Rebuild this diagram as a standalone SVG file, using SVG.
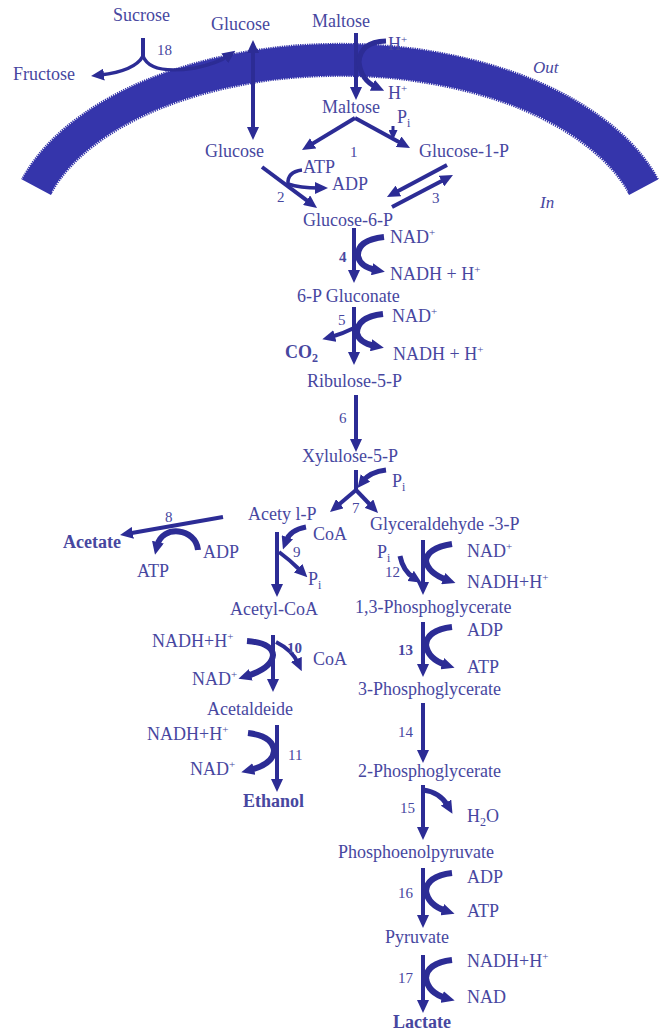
<svg xmlns="http://www.w3.org/2000/svg" width="659" height="1032" viewBox="0 0 659 1032" font-family="'Liberation Serif','Times New Roman',serif">
<style>
text{font-family:"Liberation Serif","Times New Roman",serif;font-size:18px;fill:#4747a0}
.n{font-size:15px}
.b{font-weight:bold}
.i{font-style:italic;font-size:17px}
.sup{font-size:11px}
.sub{font-size:12px}
.ln{fill:none;stroke:#2c2c95;stroke-width:4;marker-end:url(#ah)}
.cf{fill:none;stroke:#2c2c95;stroke-width:6;marker-end:url(#ah)}
.pl{fill:none;stroke:#2c2c95;stroke-width:4}
.teeth{fill:none;stroke:#ffffff;stroke-width:3;stroke-dasharray:1 1.3}
</style>
<defs>
<marker id="ah" viewBox="0 0 13 12" markerWidth="13" markerHeight="12" refX="4" refY="6" orient="auto" markerUnits="userSpaceOnUse"><path d="M0,0 L13,6 L0,12 z" fill="#2c2c95"/></marker>
<marker id="ahr" viewBox="0 0 13 12" markerWidth="13" markerHeight="12" refX="4" refY="6" orient="auto-start-reverse" markerUnits="userSpaceOnUse"><path d="M0,0 L13,6 L0,12 z" fill="#2c2c95"/></marker>
<marker id="ahs" viewBox="0 0 10 9" markerWidth="10" markerHeight="9" refX="3" refY="4.5" orient="auto" markerUnits="userSpaceOnUse"><path d="M0,0 L10,4.5 L0,9 z" fill="#2c2c95"/></marker>
</defs>
<rect width="659" height="1032" fill="#ffffff"/>
<g id="membrane">
<path d="M 36 187 A 318 180 0 0 1 644 187" fill="none" stroke="#3535ab" stroke-width="34"/>
<path class="teeth" d="M 19 182 A 336 198 0 0 1 661 182"/>
<path class="teeth" d="M 53 192 A 300 162 0 0 1 627 192"/>
</g>
<g id="connectors">
<!-- 18 -->
<path class="pl" d="M 143 38 L 143 57"/>
<path class="ln" style="stroke-width:3.5" d="M 143 56 Q 135 71 100 75"/>
<path class="ln" style="stroke-width:3.5" d="M 143 56 Q 150 75 195 68 Q 218 63 228 56"/>
<!-- glucose transport -->
<path class="ln" style="marker-start:url(#ahr)" d="M 253 49 L 253 131"/>
<!-- maltose transport -->
<path class="ln" d="M 356 33 L 356 91"/>
<path class="cf" style="stroke-width:5" d="M 386 41 Q 360 42 359 62 Q 361 80 376 87"/>
<!-- 1 -->
<path class="ln" d="M 355 118 L 309.7 145.4"/>
<path class="ln" d="M 355 118 L 402.1 143.7"/>
<path class="pl" style="stroke-width:3;marker-end:url(#ahs)" d="M 393 126 L 393 133"/>
<!-- 2 -->
<path class="ln" d="M 262 167 L 309.8 202.6"/>
<path class="ln" style="stroke-width:3.5" d="M 302 170 Q 287 172 288 184 Q 300 188 319 188"/>
<!-- 3 -->
<path class="ln" d="M 447 165 L 394.9 192.8"/>
<path class="ln" d="M 392 207 L 445 179.2"/>
<!-- 4 -->
<path class="ln" d="M 354 228 L 354 274"/>
<path class="cf" d="M 384 237 Q 357 240 358 256 Q 360 267 376 270"/>
<!-- 5 -->
<path class="ln" d="M 354 307 L 354 356"/>
<path class="cf" d="M 383 314 Q 357 317 357 333 Q 359 343 375 346"/>
<path class="ln" d="M 354 328 Q 342 334 331 337"/>
<!-- 6 -->
<path class="ln" d="M 356 395 L 356 443"/>
<!-- 7 -->
<path class="pl" d="M 356 470 L 356 491"/>
<path class="ln" d="M 356 490 L 336.9 506.2"/>
<path class="ln" d="M 356 490 L 371.8 506.5"/>
<path class="cf" style="stroke-width:5" d="M 386 470 Q 370 472 363 481"/>
<!-- 8 -->
<path class="ln" d="M 223 517 L 128.9 533.5"/>
<path class="cf" d="M 198 550 C 196 528 162 524 157 546"/>
<!-- 9 -->
<path class="ln" d="M 277 532 L 277 588"/>
<path class="cf" style="stroke-width:5" d="M 306 527 Q 290 530 286 541"/>
<path class="cf" style="stroke-width:4" d="M 279 552 Q 290 560 301 571"/>
<!-- 10 -->
<path class="ln" d="M 273 635 L 273 683"/>
<path class="cf" d="M 247 641 Q 272 643 273 655 Q 272 668 247 676"/>
<path class="cf" style="stroke-width:4" d="M 276 642 Q 292 650 298 663"/>
<!-- 11 -->
<path class="ln" d="M 277 725 L 277 783"/>
<path class="cf" d="M 248 733 Q 273 736 274 751 Q 273 764 250 770"/>
<!-- 12 -->
<path class="ln" d="M 423 540 L 423 586"/>
<path class="cf" d="M 452 544 Q 427 548 426 561 Q 428 573 447 580"/>
<path class="cf" style="stroke-width:5" d="M 400 556 Q 403 571 414 578"/>
<!-- 13 -->
<path class="ln" d="M 423 622 L 423 668"/>
<path class="cf" d="M 452 627 Q 427 630 426 645 Q 428 659 446 665"/>
<!-- 14 -->
<path class="ln" d="M 423 703 L 423 754"/>
<!-- 15 -->
<path class="ln" d="M 423 785 L 423 831"/>
<path class="cf" style="stroke-width:5" d="M 423 790 Q 440 792 448 806"/>
<!-- 16 -->
<path class="ln" d="M 423 868 L 423 919"/>
<path class="cf" d="M 452 873 Q 427 876 426 891 Q 428 905 446 911"/>
<!-- 17 -->
<path class="ln" d="M 423 955 L 423 1004"/>
<path class="cf" d="M 452 960 Q 427 963 426 978 Q 428 993 446 998"/>
</g>
<g id="n-sucrose"><text x="113" y="21">Sucrose</text></g>
<g id="n-glucose-out"><text x="211" y="30">Glucose</text></g>
<g id="n-maltose-out"><text x="312" y="27">Maltose</text></g>
<g id="n-fructose"><text x="13" y="80">Fructose</text></g>
<g id="l-18"><text class="n" x="157" y="55">18</text></g>
<g id="l-h1"><text x="388" y="50">H<tspan class="sup" dy="-7">+</tspan></text></g>
<g id="l-out"><text class="i" x="533" y="73">Out</text></g>
<g id="l-h2"><text x="388" y="99">H<tspan class="sup" dy="-7">+</tspan></text></g>
<g id="n-maltose-in"><text x="322" y="113">Maltose</text></g>
<g id="l-pi1"><text x="397" y="123">P<tspan class="sub" dy="4">i</tspan></text></g>
<g id="n-glucose-in"><text x="205" y="157">Glucose</text></g>
<g id="l-1"><text class="n" x="350" y="157">1</text></g>
<g id="n-g1p"><text x="419" y="157">Glucose-1-P</text></g>
<g id="l-atp2"><text x="303" y="173">ATP</text></g>
<g id="l-adp2"><text x="332" y="190">ADP</text></g>
<g id="l-2"><text class="n" x="277" y="202">2</text></g>
<g id="l-3"><text class="n" x="432" y="203">3</text></g>
<g id="l-in"><text class="i" x="540" y="208">In</text></g>
<g id="n-g6p"><text x="303" y="226">Glucose-6-P</text></g>
<g id="l-nad4"><text x="390" y="243">NAD<tspan class="sup" dy="-7">+</tspan></text></g>
<g id="l-4"><text class="n b" x="339" y="262">4</text></g>
<g id="l-nadh4"><text x="390" y="280">NADH + H<tspan class="sup" dy="-7">+</tspan></text></g>
<g id="n-6pg"><text x="297" y="302">6-P Gluconate</text></g>
<g id="l-nad5"><text x="392" y="322">NAD<tspan class="sup" dy="-7">+</tspan></text></g>
<g id="l-5"><text class="n" x="338" y="325">5</text></g>
<g id="l-co2"><text class="b" x="285" y="358">CO<tspan class="sub" dy="4">2</tspan></text></g>
<g id="l-nadh5"><text x="393" y="360">NADH + H<tspan class="sup" dy="-7">+</tspan></text></g>
<g id="n-ribulose"><text x="307" y="387">Ribulose-5-P</text></g>
<g id="l-6"><text class="n" x="339" y="423">6</text></g>
<g id="n-xylulose"><text x="302" y="462">Xylulose-5-P</text></g>
<g id="l-pi7"><text x="392" y="487">P<tspan class="sub" dy="4">i</tspan></text></g>
<g id="l-7"><text class="n" x="352" y="513">7</text></g>
<g id="n-acetylp"><text x="248" y="520">Acety l-P</text></g>
<g id="n-g3p"><text x="370" y="530">Glyceraldehyde -3-P</text></g>
<g id="l-8"><text class="n" x="165" y="522">8</text></g>
<g id="l-coa9"><text x="313" y="540">CoA</text></g>
<g id="n-acetate"><text class="b" x="63" y="548">Acetate</text></g>
<g id="l-adp8"><text x="203" y="558">ADP</text></g>
<g id="l-9"><text class="n" x="293" y="557">9</text></g>
<g id="l-pi12"><text x="377" y="558">P<tspan class="sub" dy="4">i</tspan></text></g>
<g id="l-nad12"><text x="467" y="557">NAD<tspan class="sup" dy="-7">+</tspan></text></g>
<g id="l-atp8"><text x="137" y="577">ATP</text></g>
<g id="l-12"><text class="n" x="385" y="577">12</text></g>
<g id="l-pi9"><text x="308" y="585">P<tspan class="sub" dy="4">i</tspan></text></g>
<g id="l-nadh12"><text x="467" y="588">NADH+H<tspan class="sup" dy="-7">+</tspan></text></g>
<g id="n-acetylcoa"><text x="230" y="615">Acetyl-CoA</text></g>
<g id="n-13pg"><text x="355" y="613">1,3-Phosphoglycerate</text></g>
<g id="l-adp13"><text x="467" y="636">ADP</text></g>
<g id="l-nadh10"><text x="152" y="647">NADH+H<tspan class="sup" dy="-7">+</tspan></text></g>
<g id="l-10"><text class="n b" x="287" y="653">10</text></g>
<g id="l-13"><text class="n b" x="398" y="655">13</text></g>
<g id="l-coa10"><text x="313" y="665">CoA</text></g>
<g id="l-atp13"><text x="467" y="673">ATP</text></g>
<g id="l-nad10"><text x="192" y="685">NAD<tspan class="sup" dy="-7">+</tspan></text></g>
<g id="n-3pg"><text x="358" y="695">3-Phosphoglycerate</text></g>
<g id="n-acetaldeide"><text x="207" y="715">Acetaldeide</text></g>
<g id="l-14"><text class="n" x="398" y="737">14</text></g>
<g id="l-nadh11"><text x="147" y="740">NADH+H<tspan class="sup" dy="-7">+</tspan></text></g>
<g id="l-11"><text class="n" x="288" y="760">11</text></g>
<g id="l-nad11"><text x="190" y="775">NAD<tspan class="sup" dy="-7">+</tspan></text></g>
<g id="n-2pg"><text x="358" y="777">2-Phosphoglycerate</text></g>
<g id="n-ethanol"><text class="b" x="243" y="807">Ethanol</text></g>
<g id="l-15"><text class="n" x="400" y="813">15</text></g>
<g id="l-h2o"><text x="467" y="822">H<tspan class="sub" dy="4">2</tspan><tspan dy="-4">O</tspan></text></g>
<g id="n-pep"><text x="338" y="858">Phosphoenolpyruvate</text></g>
<g id="l-adp16"><text x="467" y="883">ADP</text></g>
<g id="l-16"><text class="n" x="398" y="898">16</text></g>
<g id="l-atp16"><text x="467" y="917">ATP</text></g>
<g id="n-pyruvate"><text x="385" y="943">Pyruvate</text></g>
<g id="l-nadh17"><text x="467" y="967">NADH+H<tspan class="sup" dy="-7">+</tspan></text></g>
<g id="l-17"><text class="n" x="398" y="983">17</text></g>
<g id="l-nad17"><text x="467" y="1003">NAD</text></g>
<g id="n-lactate"><text class="b" x="393" y="1028">Lactate</text></g>
</svg>
